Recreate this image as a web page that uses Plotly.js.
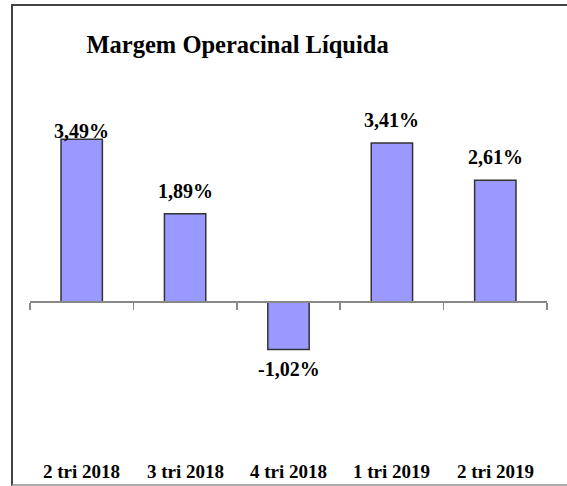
<!DOCTYPE html>
<html>
<head>
<meta charset="utf-8">
<script src="https://cdn.plot.ly/plotly-3.0.1.min.js"></script>
<style>
  html, body { margin: 0; padding: 0; background: #fff; }
  #wrap { position: relative; width: 567px; height: 486px; overflow: hidden; }
  #chart { position: absolute; left: 0; top: 0; width: 567px; height: 486px; }
  #frame { position: absolute; left: 11px; top: 4px; width: 600px; height: 478px;
           border-left: 2px solid #444; border-top: 2px solid #444; border-bottom: 2px solid #aaa;
           pointer-events: none; }
</style>
</head>
<body>
<div id="wrap">
  <div id="chart"></div>
  <div id="frame"></div>
</div>
<script>
const categories = ['2 tri 2018', '3 tri 2018', '4 tri 2018', '1 tri 2019', '2 tri 2019'];
const margins = [3.49, 1.89, -1.02, 3.41, 2.61];
const valueLabels = margins.map(v => v.toFixed(2).replace('.', ',') + '%');
const chartTitle = 'Margem Operacinal Líquida';

const FONT = 'Liberation Serif';
const yMin = -3.387, yMax = 4.330;

const trace = {
  type: 'bar',
  x: categories,
  y: margins,
  width: 0.4,
  marker: { color: '#9999FF', line: { color: '#333333', width: 1.5 } },
  hoverinfo: 'skip'
};

const annotations = [];
margins.forEach((v, i) => {
  let shift = v >= 0 ? 23 : -19;
  if (i === 0) shift = 8;
  annotations.push({
    x: categories[i], y: v, xref: 'x', yref: 'y',
    text: '<b>' + valueLabels[i] + '</b>', showarrow: false,
    yanchor: 'middle', xanchor: 'center', yshift: shift,
    font: { family: FONT, size: 20, color: '#000' }
  });
  annotations.push({
    x: categories[i], y: -0.032, xref: 'x', yref: 'paper',
    text: '<b>' + categories[i] + '</b>', showarrow: false,
    yanchor: 'middle', xanchor: 'center',
    font: { family: FONT, size: 19, color: '#000' }
  });
});

const layout = {
  width: 567, height: 486,
  margin: { l: 30, r: 20.3, t: 100, b: 26 },
  paper_bgcolor: 'rgba(0,0,0,0)',
  plot_bgcolor: 'rgba(0,0,0,0)',
  showlegend: false,
  font: { family: FONT },
  title: {
    text: '<b>' + chartTitle + '</b>',
    xref: 'container', x: 0.419, xanchor: 'center',
    yref: 'container', y: 1 - 44 / 486, yanchor: 'middle',
    font: { family: FONT, size: 24.5, color: '#000' }
  },
  xaxis: {
    type: 'category',
    range: [-0.5, 4.5],
    anchor: 'free', position: (0 - yMin) / (yMax - yMin),
    showline: true, linecolor: '#888888', linewidth: 2,
    ticks: 'outside', tickson: 'boundaries', ticklen: 7, tickwidth: 1.5, tickcolor: '#888888',
    showticklabels: false, showgrid: false, zeroline: false, fixedrange: true
  },
  yaxis: {
    range: [yMin, yMax], visible: false, showgrid: false, zeroline: false, fixedrange: true
  },
  annotations: annotations
};

Plotly.newPlot('chart', [trace], layout, { displayModeBar: false, staticPlot: true });
</script>
</body>
</html>
